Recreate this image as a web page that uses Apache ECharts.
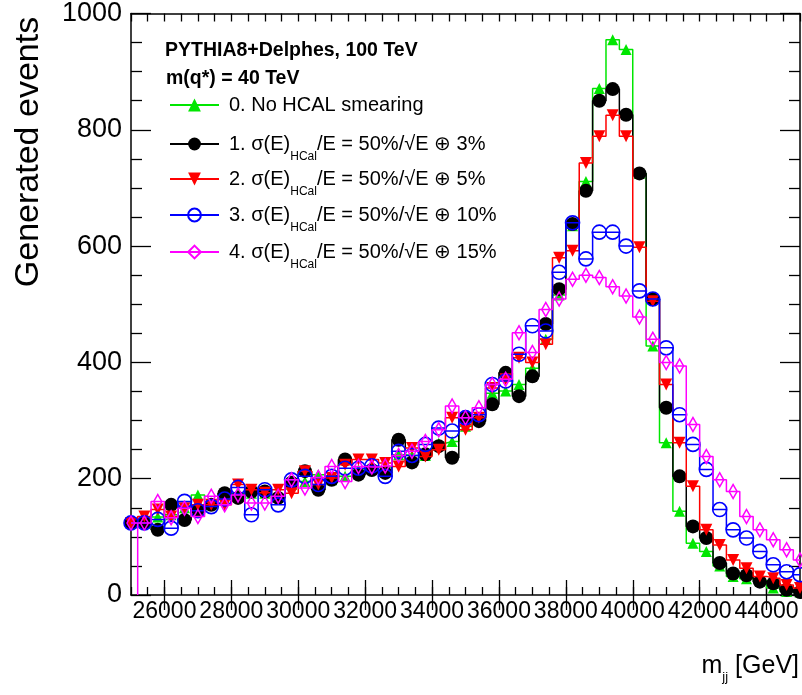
<!DOCTYPE html>
<html><head><meta charset="utf-8">
<script src="https://cdn.jsdelivr.net/npm/echarts@6/dist/echarts.min.js"></script>
<style>html,body{margin:0;padding:0;background:#fff}#c{width:802px;height:695px}</style>
</head><body><div id="c"></div>
<script>
const FONT = '"Liberation Sans", Arial, Helvetica, sans-serif';

// bin centres (GeV), 400 GeV bins
const binCenters = [25000,25400,25800,26200,26600,27000,27400,27800,28200,28600,
  29000,29400,29800,30200,30600,31000,31400,31800,32200,32600,
  33000,33400,33800,34200,34600,35000,35400,35800,36200,36600,
  37000,37400,37800,38200,38600,39000,39400,39800,40200,40600,
  41000,41400,41800,42200,42600,43000,43400,43800,44200,44600,45000];

const xLabelTicks = [26000,28000,30000,32000,34000,36000,38000,40000,42000,44000];

const seriesNames = [
  '0. No HCAL smearing',
  '1. σ(E)HCal/E = 50%/√E ⊕ 3%',
  '2. σ(E)HCal/E = 50%/√E ⊕ 5%',
  '3. σ(E)HCal/E = 50%/√E ⊕ 10%',
  '4. σ(E)HCal/E = 50%/√E ⊕ 15%'
];

const noSmear = [124,124,134,138,150,172,155,165,175,175,
  175,170,190,195,207,198,204,215,220,220,
  241,240,240,261,264,290,305,347,351,362,
  390,440,516,635,711,871,955,938,725,428,
  262,144,89,75,50,32,28,25,12,6,5];
const res3 = [124,124,112,155,129,147,155,175,167,178,
  178,167,193,213,181,198,233,207,215,210,
  267,228,242,256,236,305,299,328,382,342,
  376,466,526,638,695,850,870,826,725,509,
  322,204,118,98,55,37,34,23,20,9,5];
const res5 = [124,135,147,135,149,155,155,155,190,181,
  176,181,175,213,190,201,224,233,233,227,
  221,253,238,250,305,284,305,356,371,408,
  400,431,580,592,743,789,825,789,598,505,
  362,262,187,112,86,60,46,32,29,17,12];
const res10 = [124,124,130,115,161,145,152,165,185,138,
  181,155,198,204,190,204,218,218,222,204,
  247,240,259,287,282,305,310,362,368,414,
  463,454,555,640,578,624,624,600,523,509,
  425,310,259,216,147,112,98,75,52,40,35];
const res15 = [124,124,161,133,149,135,170,155,172,158,
  158,170,198,184,202,221,195,221,220,222,
  240,247,264,284,325,305,322,362,371,451,
  417,491,509,543,550,546,530,514,478,440,
  400,394,293,238,198,178,135,112,95,78,60];

const firstBinLowEdge = 25200;

const allValues = [noSmear, res3, res5, res10, res15];
const colors = ['#00e600', '#000000', '#ff0000', '#0000ff', '#ff00ff'];
const symbols = ['triangle', 'circle', 'triangle', 'circle', 'diamond'];
const symbolSizes = [11, 14, 12, 14, [8, 14]];
const symbolRotates = [0, 0, 180, 0, 0];
const openMarker = [false, false, false, true, true];
const legendCenters = [103, 142, 177, 213, 250];

const chart = echarts.init(document.getElementById('c'), null, {renderer: 'canvas'});

function pairs(vals) { return binCenters.map((x, i) => [x, vals[i]]); }

const series = allValues.map((vals, i) => ({
  name: seriesNames[i],
  type: 'line',
  step: 'middle',
  data: pairs(vals),
  xAxisIndex: 0, yAxisIndex: 0,
  symbol: symbols[i],
  symbolSize: symbolSizes[i],
  symbolRotate: symbolRotates[i],
  showAllSymbol: true,
  lineStyle: {color: colors[i], width: 1.5},
  itemStyle: openMarker[i]
    ? {color: 'rgba(0,0,0,0)', borderColor: colors[i], borderWidth: 1.6}
    : {color: colors[i], borderWidth: 0},
  emphasis: {disabled: true},
  z: 2 + i
}));

series.push({
  name: 'edge', type: 'line',
  data: [[firstBinLowEdge, 0], [firstBinLowEdge, res15[0]]],
  symbol: 'none',
  lineStyle: {color: colors[4], width: 1.5},
  emphasis: {disabled: true}, silent: true, z: 7
});

function legendFormatter(name) {
  const m = name.match(/^(\d\. σ\(E\))HCal(.*)$/);
  if (!m) return '{g| }{a|' + name + '}';
  return '{g| }{a|' + m[1] + '}{s|HCal}{a|' + m[2] + '}';
}

const legends = seriesNames.map((n, i) => ({
  data: [n],
  left: 169,
  top: legendCenters[i] - 8,
  padding: 0,
  itemWidth: 49,
  itemHeight: 16,
  selectedMode: false,
  formatter: legendFormatter,
  textStyle: {
    fontFamily: FONT, fontSize: 20, color: '#000',
    rich: {
      g: {width: 5, fontSize: 20, lineHeight: 38},
      a: {fontFamily: FONT, fontSize: 20, color: '#000', lineHeight: 38, verticalAlign: 'middle'},
      s: {fontFamily: FONT, fontSize: 12, color: '#000', lineHeight: 14, verticalAlign: 'bottom'}
    }
  }
}));

const axisLineStyle = {color: '#000', width: 1.5};
const tickStyle = {color: '#000', width: 1.3};
const plain = v => String(v);

const option = {
  animation: false,
  backgroundColor: '#fff',
  grid: {left: 131, right: 2, top: 13, bottom: 100, containLabel: false},
  legend: legends,
  xAxis: [
    {type: 'value', min: 25000, max: 45000, interval: 500, position: 'bottom',
      axisLine: {show: true, onZero: false, lineStyle: axisLineStyle},
      axisTick: {show: true, inside: true, length: 8, lineStyle: tickStyle},
      axisLabel: {show: false},
      splitLine: {show: false}},
    {type: 'value', min: 25000, max: 45000, interval: 500, position: 'bottom',
      axisLine: {show: false},
      axisTick: {show: true, inside: true, length: 15, customValues: xLabelTicks, lineStyle: tickStyle},
      axisLabel: {show: true, customValues: xLabelTicks, formatter: plain, hideOverlap: false,
        showMinLabel: true, showMaxLabel: true,
        fontFamily: FONT, fontSize: 23, color: '#000', margin: 5},
      splitLine: {show: false}},
    {type: 'value', min: 25000, max: 45000, interval: 500, position: 'top',
      axisLine: {show: true, onZero: false, lineStyle: axisLineStyle},
      axisTick: {show: true, inside: true, length: 8, lineStyle: tickStyle},
      axisLabel: {show: false}, splitLine: {show: false}},
    {type: 'value', min: 25000, max: 45000, interval: 500, position: 'top',
      axisLine: {show: false},
      axisTick: {show: true, inside: true, length: 15, customValues: xLabelTicks, lineStyle: tickStyle},
      axisLabel: {show: false}, splitLine: {show: false}}
  ],
  yAxis: [
    {type: 'value', min: 0, max: 1000, interval: 200, position: 'left',
      axisLine: {show: true, onZero: false, lineStyle: axisLineStyle},
      axisTick: {show: true, inside: true, length: 20, lineStyle: tickStyle},
      minorTick: {show: true, splitNumber: 4, length: 11, lineStyle: tickStyle},
      axisLabel: {fontFamily: FONT, fontSize: 27, color: '#000', margin: 9, formatter: plain},
      splitLine: {show: false}},
    {type: 'value', min: 0, max: 1000, interval: 200, position: 'right',
      axisLine: {show: true, onZero: false, lineStyle: axisLineStyle},
      axisTick: {show: true, inside: true, length: 20, lineStyle: tickStyle},
      minorTick: {show: true, splitNumber: 4, length: 11, lineStyle: tickStyle},
      axisLabel: {show: false}, splitLine: {show: false}}
  ],
  graphic: [
    {type: 'text', left: 165, top: 41, style: {text: 'PYTHIA8+Delphes, 100 TeV', font: 'bold 19.5px ' + FONT, fill: '#000'}},
    {type: 'text', left: 166, top: 69, style: {text: 'm(q*) = 40 TeV', font: 'bold 19.5px ' + FONT, fill: '#000'}},
    {type: 'text', x: 29, y: 152, rotation: Math.PI / 2,
      style: {text: 'Generated events', font: '34px ' + FONT, fill: '#000', align: 'center', verticalAlign: 'middle'}},
    {type: 'text', right: 3, top: 654,
      style: {text: '{a|m}{s|jj}{a| [GeV]}', fill: '#000',
        rich: {a: {fontFamily: FONT, fontSize: 25, lineHeight: 34, verticalAlign: 'middle'},
               s: {fontFamily: FONT, fontSize: 13, lineHeight: 14, verticalAlign: 'bottom'}}}}
  ],
  series: series
};
chart.setOption(option);
</script>
</body></html>
